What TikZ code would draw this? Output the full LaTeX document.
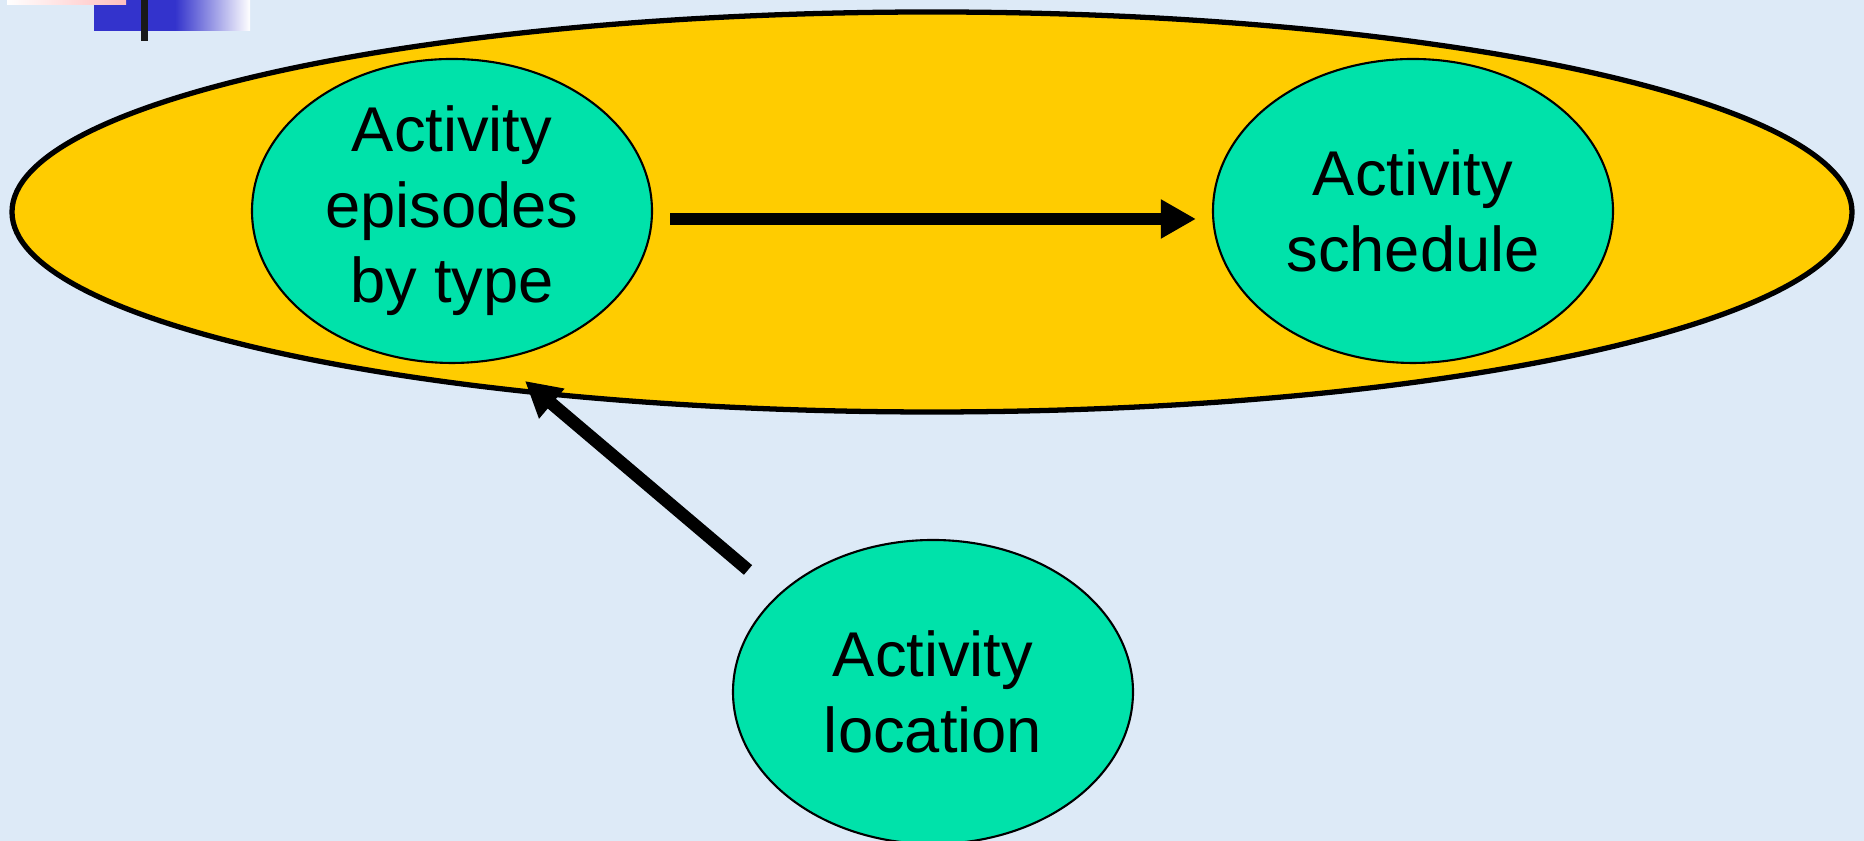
\documentclass[tikz,border=0pt]{standalone}
\usepackage{fontspec}
\setmainfont{Liberation Sans}
\usetikzlibrary{arrows.meta,shapes.geometric}

\definecolor{bgblue}{RGB}{221,234,247}
\definecolor{planyellow}{RGB}{255,204,0}
\definecolor{actgreen}{RGB}{0,226,170}
\definecolor{logoblue}{RGB}{51,51,204}
\definecolor{logopink}{RGB}{255,190,190}

\tikzset{
  act/.style={ellipse, draw=black, line width=0.6pt, fill=actgreen,
    minimum width=4cm, minimum height=3.04cm, inner sep=0pt, align=center,
    font=\fontsize{18}{21.5}\selectfont},
  flow/.style={line width=3.6pt, -{Triangle[length=10pt,width=10.5pt]}}
}

\begin{document}
\begin{tikzpicture}
    % background and corner mark
    \fill[bgblue] (0,0) rectangle (18.64,8.41);
    \useasboundingbox (0,0) rectangle (18.64,8.41);
    \fill[logoblue] (0.94,8.10) rectangle (1.75,8.41);
    \shade[left color=logoblue, right color=white] (1.75,8.10) rectangle (2.50,8.41);
    \shade[left color=white, right color=logopink] (0.07,8.36) rectangle (1.26,8.41);
    \fill[black!90] (1.41,8.00) rectangle (1.48,8.41);

    \node[ellipse, draw=black, line width=1.5pt, fill=planyellow,
      minimum width=18.4cm, minimum height=4.0cm] (plan) at (9.32,6.29) {};

    \node[act] (eps) at (4.52,6.30) {Activity\\episodes\\by type};
    \node[act] (sched) at (14.13,6.30) {Activity\\schedule};
    \node[act] (loc) at (9.33,1.49) {Activity\\location};

    \coordinate (tail) at (7.48,2.71);
    \coordinate (tip) at (5.25,4.60);

    \draw[flow, shorten <=0.17cm, shorten >=0.16cm] ([yshift=-0.08cm]eps.east) -- ([yshift=-0.08cm]sched.west);
    \draw[flow] (tail) -- (tip);
\end{tikzpicture}
\end{document}
